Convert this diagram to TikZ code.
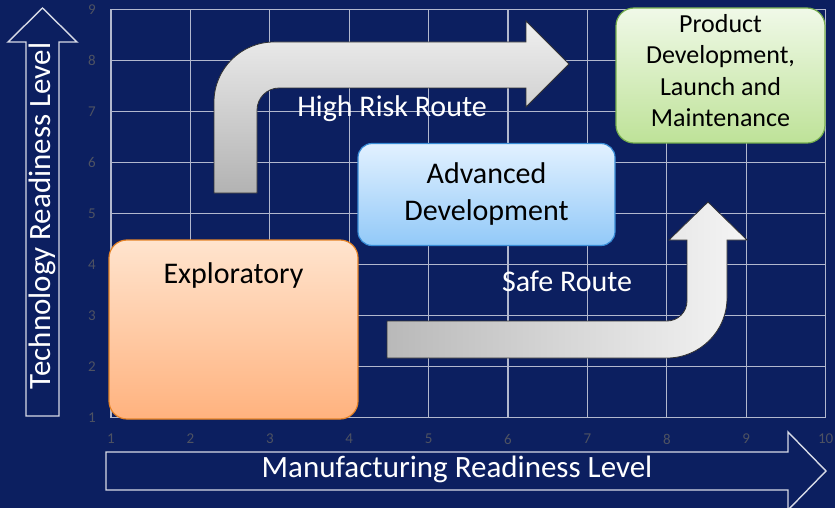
\documentclass[tikz,border=0pt]{standalone}
\usepackage{fontspec}
\setmainfont{Carlito}
\usepackage{xcolor}
\usepackage{tikz}
\usetikzlibrary{positioning}

\definecolor{navybg}{RGB}{12,31,96}
\definecolor{gridgray}{RGB}{178,184,206}
\definecolor{tickgray}{RGB}{78,82,98}
\definecolor{axiswhite}{RGB}{215,218,230}
\definecolor{peachtop}{RGB}{255,228,206}
\definecolor{peachbot}{RGB}{255,178,126}
\definecolor{peachline}{RGB}{230,132,40}
\definecolor{bluetop}{RGB}{226,241,255}
\definecolor{bluebot}{RGB}{146,201,248}
\definecolor{blueline}{RGB}{56,140,214}
\definecolor{greentop}{RGB}{240,249,232}
\definecolor{greenbot}{RGB}{190,226,152}
\definecolor{greenline}{RGB}{118,174,78}

\begin{document}
\begin{tikzpicture}[x=1pt, y=-1pt,
    gridline/.style={draw=gridgray, line width=1.2pt},
    tick/.style={text=tickgray, font=\fontsize{15}{15}\selectfont, inner sep=0pt},
    axisarrow/.style={draw=axiswhite, line width=1.4pt, line join=miter},
    axislabel/.style={text=white, font=\fontsize{31}{31}\selectfont},
    routearrow/.style={draw=black!80, line width=0.8pt},
    routelabel/.style={text=white, font=\fontsize{30}{30}\selectfont},
    box/.style={rounded corners=18pt, line width=1.2pt, align=center, text=black}
  ]
  \fill[navybg] (0,0) rectangle (835,508);
  \useasboundingbox (0,0) rectangle (835,508);

  % grid and tick numbers
  \foreach \i in {1,...,10} {
    \draw[gridline] ({111+(\i-1)*79.4},417.5) -- ({111+(\i-1)*79.4},9.5);
    \node[tick] (xtick\i) at ({111+(\i-1)*79.4},439) {\i};
  }
  \foreach \j in {1,...,9} {
    \draw[gridline] (111,{417.5-(\j-1)*51}) -- (825.6,{417.5-(\j-1)*51});
    \node[tick] (ytick\j) at (92,{417.5-(\j-1)*51}) {\j};
  }

  % axis arrows
  \draw[axisarrow] (26,416) -- (26,42) -- (8,42) -- (42.5,8) -- (77,42) -- (59,42) -- (59,416) -- cycle;
  \node[axislabel, rotate=90] (trl) at (42.5,216) {Technology Readiness Level};
  \draw[axisarrow] (106,452) -- (788,452) -- (788,432) -- (826,471) -- (788,510) -- (788,490) -- (106,490) -- cycle;
  \node[axislabel] (mrl) at (457,469) {Manufacturing Readiness Level};

  % routes
  \draw[routearrow, top color=gray!12, bottom color=gray!60]
    (214,193) -- (214,102) .. controls (214,69) and (241,42) .. (274,42)
    -- (526,42) -- (526,21) -- (569,64) -- (526,107) -- (526,88) -- (279,88)
    .. controls (267,88) and (257,98) .. (257,110) -- (257,193) -- cycle;
  \node[routelabel] (highrisk) at (392,109) {High Risk Route};

  \draw[routearrow, left color=gray!55, right color=gray!8]
    (387,321) -- (667,321) .. controls (678,321) and (687,312) .. (687,301)
    -- (687,240) -- (669,240) -- (708,202) -- (747,240) -- (727,240) -- (727,298)
    .. controls (727,331) and (700,358) .. (667,358) -- (387,358) -- cycle;
  \node[routelabel] (safe) at (567,281) {Safe Route};

  % readiness stages
  \node[box, draw=peachline, top color=peachtop, bottom color=peachbot,
    minimum width=249pt, minimum height=179pt] (explor) at (233.5,329.5) {};
  \node[font=\fontsize{30}{30}\selectfont, below=20pt of explor.north] (explorlabel) {Exploratory};
  \node[box, draw=blueline, top color=bluetop, bottom color=bluebot, rounded corners=14pt,
    minimum width=257pt, minimum height=102pt, font=\fontsize{30}{37}\selectfont]
    (advanced) at (486.5,194.5) {Advanced\\Development};
  \node[box, draw=greenline, top color=greentop, bottom color=greenbot,
    minimum width=209pt, minimum height=135pt, font=\fontsize{26}{31.3}\selectfont,
    text depth=10pt] (product) at (720.5,75.5) {Product\\Development,\\Launch and\\Maintenance};
\end{tikzpicture}
\end{document}
